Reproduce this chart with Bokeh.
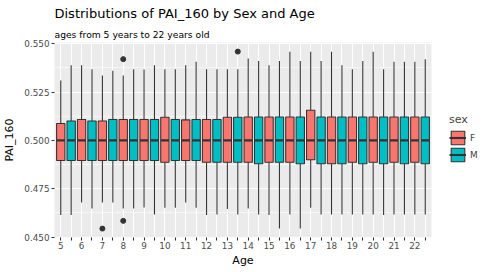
import math
from bokeh.plotting import figure
from bokeh.models import (Range1d, FixedTicker, PrintfTickFormatter, Title,
                          Legend, LegendItem, ColumnDataSource)
from bokeh.embed import file_html
from bokeh.resources import INLINE

# ---------------- data ----------------
ages = [5, 6, 7, 8, 9, 10, 11, 12, 13, 14, 15, 16, 17, 18, 19, 20, 21, 22]
sex_levels = ["F", "M"]

f_lower = [0.4614, 0.4679, 0.4679, 0.4648, 0.4653, 0.4652, 0.4679, 0.4614, 0.4645,
           0.4648, 0.4614, 0.4617, 0.4652, 0.4617, 0.4617, 0.4617, 0.4617, 0.4617]
f_q1 = [0.4896, 0.4896, 0.4896, 0.4896, 0.4896, 0.4887, 0.4896, 0.4887, 0.4887,
        0.4887, 0.4887, 0.4887, 0.4900, 0.4879, 0.4887, 0.4887, 0.4887, 0.4887]
f_median = [0.5000, 0.5000, 0.5000, 0.5000, 0.5000, 0.5000, 0.5000, 0.5000, 0.5000,
            0.5000, 0.5000, 0.5000, 0.5000, 0.5000, 0.5000, 0.5000, 0.5000, 0.5000]
f_q3 = [0.5087, 0.5108, 0.5100, 0.5108, 0.5108, 0.5120, 0.5106, 0.5108, 0.5120,
        0.5121, 0.5121, 0.5121, 0.5156, 0.5121, 0.5121, 0.5121, 0.5121, 0.5121]
f_upper = [0.5310, 0.5388, 0.5336, 0.5336, 0.5366, 0.5368, 0.5388, 0.5368, 0.5368,
           0.5423, 0.5388, 0.5458, 0.5458, 0.5458, 0.5368, 0.5458, 0.5407, 0.5407]

m_lower = [0.4614, 0.4648, 0.4679, 0.4648, 0.4617, 0.4652, 0.4652, 0.4617, 0.4617,
           0.4617, 0.4544, 0.4544, 0.4617, 0.4617, 0.4617, 0.4614, 0.4617, 0.4617]
m_q1 = [0.4896, 0.4896, 0.4896, 0.4896, 0.4896, 0.4896, 0.4896, 0.4887, 0.4887,
        0.4879, 0.4887, 0.4879, 0.4879, 0.4879, 0.4879, 0.4879, 0.4879, 0.4879]
m_median = [0.5000, 0.5000, 0.5000, 0.5000, 0.5000, 0.5000, 0.5000, 0.5000, 0.5000,
            0.5000, 0.5000, 0.5000, 0.5000, 0.5000, 0.5000, 0.5000, 0.5000, 0.5000]
m_q3 = [0.5100, 0.5100, 0.5108, 0.5108, 0.5108, 0.5108, 0.5108, 0.5108, 0.5120,
        0.5121, 0.5121, 0.5121, 0.5121, 0.5121, 0.5121, 0.5121, 0.5121, 0.5121]
m_upper = [0.5388, 0.5368, 0.5360, 0.5368, 0.5388, 0.5368, 0.5407, 0.5368, 0.5368,
           0.5411, 0.5411, 0.5411, 0.5411, 0.5388, 0.5411, 0.5368, 0.5407, 0.5420]

outlier_age = [7, 8, 8, 13]
outlier_sex = ["F", "F", "F", "M"]
outlier_value = [0.4544, 0.5420, 0.4584, 0.5459]

y_ticks = [0.450, 0.475, 0.500, 0.525, 0.550]
y_minor = [0.4625, 0.4875, 0.5125, 0.5375]

colors = {"F": "#F8766D", "M": "#00BFC4"}

# ---------------- positions (one discrete slot per age x sex) ----------------
def slot(age, sex):
    return ages.index(age) * 2 + sex_levels.index(sex) + 1

f_x = [slot(a, "F") for a in ages]
m_x = [slot(a, "M") for a in ages]
all_slots = sorted(f_x + m_x)
tick_labels = {}
for a in ages:
    tick_labels[slot(a, "F")] = str(a)
    tick_labels[slot(a, "M")] = ""

FONT = "DejaVu Sans"
BOX_W = 0.8
LINE = "#333333"

p = figure(frame_width=377, frame_height=195,
           x_range=Range1d(0.4, len(all_slots) + 0.6),
           y_range=Range1d(0.4498, 0.5506),
           output_backend="svg", toolbar_location=None,
           min_border_left=52, min_border_right=53,
           min_border_top=41, min_border_bottom=31)
p.background_fill_color = "#EBEBEB"
p.border_fill_color = "white"
p.outline_line_color = None

# grids
p.xgrid.ticker = FixedTicker(ticks=all_slots)
p.xgrid.grid_line_color = "white"
p.xgrid.grid_line_width = 1.07
p.ygrid.ticker = FixedTicker(ticks=y_ticks, minor_ticks=y_minor)
p.ygrid.grid_line_color = "white"
p.ygrid.grid_line_width = 1.07
p.ygrid.minor_grid_line_color = "white"
p.ygrid.minor_grid_line_width = 0.55

# axes
p.xaxis.ticker = FixedTicker(ticks=all_slots)
p.xaxis.major_label_overrides = tick_labels
p.yaxis.ticker = FixedTicker(ticks=y_ticks)
p.yaxis.formatter = PrintfTickFormatter(format="%.3f")
for ax in (p.xaxis[0], p.yaxis[0]):
    ax.axis_line_color = None
    ax.major_tick_line_color = LINE
    ax.major_tick_line_width = 1.07
    ax.major_tick_out = 3
    ax.major_tick_in = 0
    ax.minor_tick_line_color = None
    ax.major_label_text_font = FONT
    ax.major_label_text_font_size = "8.8px"
    ax.major_label_text_color = "#4D4D4D"
    ax.axis_label_text_font = FONT
    ax.axis_label_text_font_size = "11px"
    ax.axis_label_text_font_style = "normal"
    ax.axis_label_text_color = "black"
p.xaxis.major_label_standoff = 1
p.yaxis.major_label_standoff = 2
p.xaxis.axis_label = "Age"
p.yaxis.axis_label = "PAI_160"
p.xaxis.axis_label_standoff = 2
p.yaxis.axis_label_standoff = 5

# boxes
renderers = {}
for sex, xs, lo, q1, med, q3, hi in (("F", f_x, f_lower, f_q1, f_median, f_q3, f_upper),
                                      ("M", m_x, m_lower, m_q1, m_median, m_q3, m_upper)):
    src = ColumnDataSource(dict(x=xs, lo=lo, q1=q1, med=med, q3=q3, hi=hi,
                                x0=[x - BOX_W / 2 for x in xs],
                                x1=[x + BOX_W / 2 for x in xs]))
    p.segment(x0="x", y0="q3", x1="x", y1="hi", source=src, line_color=LINE, line_width=1.07)
    p.segment(x0="x", y0="q1", x1="x", y1="lo", source=src, line_color=LINE, line_width=1.07)
    box = p.vbar(x="x", width=BOX_W, bottom="q1", top="q3", source=src,
                 fill_color=colors[sex], line_color=LINE, line_width=1.07)
    med_r = p.segment(x0="x0", y0="med", x1="x1", y1="med", source=src,
                      line_color=LINE, line_width=2.1)
    renderers[sex] = [box, med_r]

p.scatter(x=[slot(a, s) for a, s in zip(outlier_age, outlier_sex)], y=outlier_value,
          size=5, color=LINE)

# legend (right side panel)
legend = Legend(items=[LegendItem(label=s, renderers=renderers[s]) for s in sex_levels],
                location=(18, 74), title="sex",
                title_text_font=FONT, title_text_font_size="11px", title_text_font_style="normal",
                title_standoff=3,
                label_text_font=FONT, label_text_font_size="8.8px",
                glyph_width=17, glyph_height=17, label_height=17, label_standoff=4,
                spacing=0, padding=0, margin=0,
                border_line_color=None, background_fill_alpha=0)
p.add_layout(legend, "right")

# title and subtitle
p.title = None
p.add_layout(Title(text="ages from 5 years to 22 years old", text_font=FONT,
                   text_font_size="9.2px", text_font_style="normal", text_color="black",
                   align="left", standoff=5), "above")
p.add_layout(Title(text="Distributions of PAI_160 by Sex and Age", text_font=FONT,
                   text_font_size="13px", text_font_style="normal", text_color="black",
                   align="left", standoff=7), "above")

open("out.html", "w").write(file_html(p, INLINE))
